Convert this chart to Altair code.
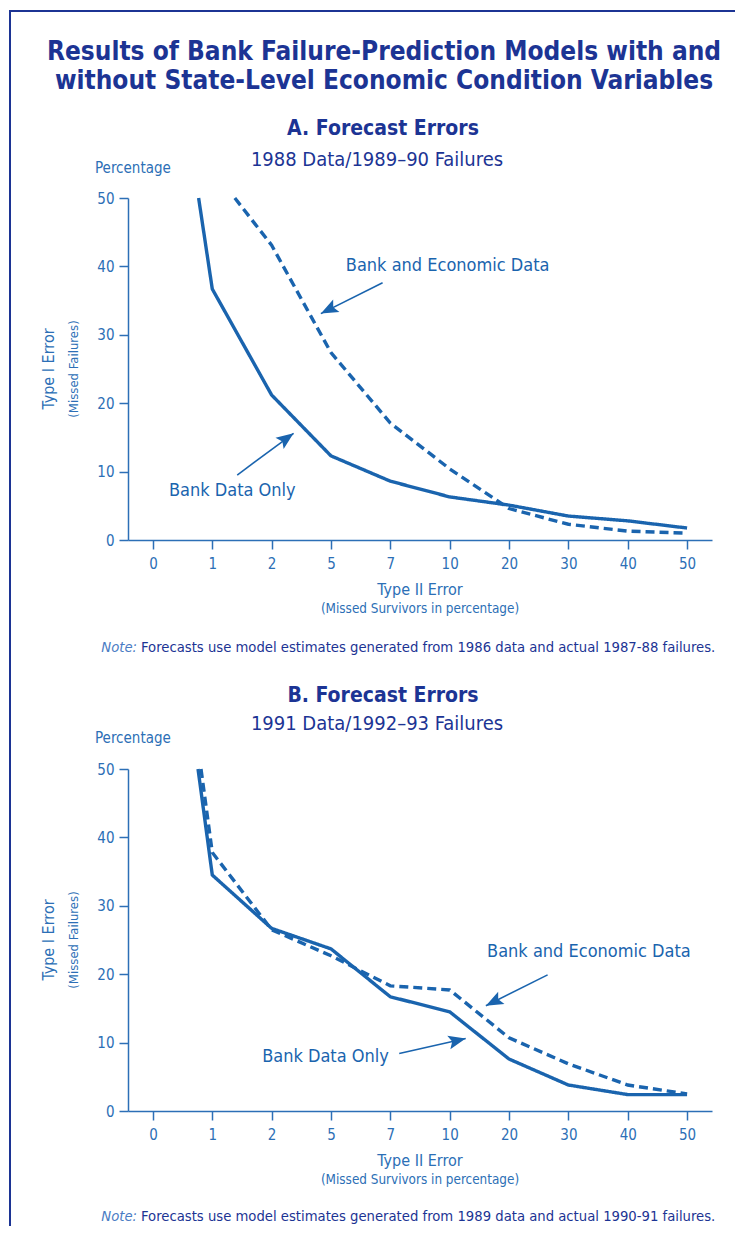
import altair as alt
import pandas as pd

# ---------------- data ----------------
x_labels = ["0", "1", "2", "5", "7", "10", "20", "30", "40", "50"]
y_ticks = [0, 10, 20, 30, 40, 50]

series_names = ["Bank Data Only", "Bank and Economic Data"]

# Panel A (1988 data / 1989-90 failures); x = index into x_labels
a_bank_pos = [0.77, 1, 2, 3, 4, 5, 6, 7, 8, 9]
a_bank_val = [50, 36.7, 21.2, 12.3, 8.6, 6.3, 5.1, 3.5, 2.8, 1.75]
a_econ_pos = [1.38, 2, 3, 4, 5, 6, 7, 8, 9]
a_econ_val = [50, 43.1, 27.4, 17.1, 10.4, 4.6, 2.3, 1.3, 1.0]

# Panel B (1991 data / 1992-93 failures)
b_bank_pos = [0.76, 1, 2, 3, 4, 5, 6, 7, 8, 9]
b_bank_val = [50, 34.5, 26.7, 23.7, 16.7, 14.5, 7.6, 3.8, 2.4, 2.4]
b_econ_pos = [0.81, 1, 2, 3, 4, 5, 6, 7, 8, 9]
b_econ_val = [50, 37.8, 26.5, 22.7, 18.3, 17.7, 10.7, 6.9, 3.8, 2.5]

# annotation labels (data coordinates)
a_label_text = ["Bank and Economic Data", "Bank Data Only"]
a_label_x = [3.25, 0.27]
a_label_y = [40.1, 7.2]
b_label_text = ["Bank and Economic Data", "Bank Data Only"]
b_label_x = [5.63, 1.84]
b_label_y = [23.3, 7.9]

# annotation arrows: tail (x, y) -> tip (x2, y2), arrowhead angle
a_arrow_x = [3.87, 1.42]
a_arrow_y = [37.6, 9.5]
a_arrow_x2 = [2.83, 2.37]
a_arrow_y2 = [33.1, 15.6]
a_arrow_angle = [243, 54]
b_arrow_x = [6.65, 4.15]
b_arrow_y = [19.9, 8.4]
b_arrow_x2 = [5.61, 5.27]
b_arrow_y2 = [15.4, 10.6]
b_arrow_angle = [243, 77]

main_title = ["Results of Bank Failure-Prediction Models with and",
              "without State-Level Economic Condition Variables"]
a_title = "A.  Forecast Errors"
a_subtitle = "1988 Data/1989\u201390 Failures"
b_title = "B.  Forecast Errors"
b_subtitle = "1991 Data/1992\u201393 Failures"
a_note = "Forecasts use model estimates generated from 1986 data and actual 1987-88 failures."
b_note = "Forecasts use model estimates generated from 1989 data and actual 1990-91 failures."
note_label = "Note:"
y_title_top = "Percentage"
y_title_main = "Type I Error"
y_title_sub = "(Missed Failures)"
x_title_main = "Type II Error"
x_title_sub = "(Missed Survivors in percentage)"

# ---------------- style ----------------
FONT = "Liberation Sans Narrow, DejaVu Sans Condensed, sans-serif"
NAVY = "#1c3494"
BLUE = "#1a64ae"
AXIS_BLUE = "#2c6fb6"
NOTE_BLUE = "#4a7cc4"
W, H = 584, 342
ARROW = "M0,0L0.8,2L0,1.6L-0.8,2Z"

label_expr = "[" + ",".join("'%s'" % s for s in x_labels) + "][round(datum.value)]"

x_scale = alt.Scale(domain=[-0.42, 9.42], nice=False, zero=False)
y_scale = alt.Scale(domain=[0, 50], nice=False)

axis_common = dict(title=None, grid=False, tickSize=9, labelFontSize=15,
                   labelFont=FONT, labelColor=AXIS_BLUE, domainColor=AXIS_BLUE,
                   tickColor=AXIS_BLUE, domainWidth=1.5, tickWidth=1.5)
x_axis = alt.Axis(values=list(range(len(x_labels))), labelExpr=label_expr,
                  labelPadding=7, labelFlush=False, **axis_common)
y_axis = alt.Axis(values=y_ticks, labelPadding=5, **axis_common)


def X(field):
    return alt.X(field, type="quantitative", scale=x_scale, axis=x_axis)


def Y(field):
    return alt.Y(field, type="quantitative", scale=y_scale, axis=y_axis)


def text_at(txt, px, py, size, color, weight="normal", align="center",
            baseline="alphabetic", angle=None, style=None):
    kw = dict(text=txt, fontSize=size, font=FONT, color=color,
              fontWeight=weight, align=align, baseline=baseline)
    if angle is not None:
        kw["angle"] = angle
    if style is not None:
        kw["fontStyle"] = style
    return alt.Chart(pd.DataFrame({"k": [0]})).mark_text(**kw).encode(
        x=alt.value(px), y=alt.value(py))


def panel(bank_pos, bank_val, econ_pos, econ_val,
          lab_text, lab_x, lab_y,
          ar_x, ar_y, ar_x2, ar_y2, ar_angle,
          title, subtitle, note, title_y, sub_y, pct_y, note_y, header=False):
    lines_df = pd.DataFrame({
        "pos": list(bank_pos) + list(econ_pos),
        "val": list(bank_val) + list(econ_val),
        "series": [series_names[0]] * len(bank_pos) + [series_names[1]] * len(econ_pos),
    })
    labels_df = pd.DataFrame({"t": lab_text, "x": lab_x, "y": lab_y})
    arrows_df = pd.DataFrame({"x": ar_x, "y": ar_y, "x2": ar_x2, "y2": ar_y2,
                              "angle": ar_angle})

    lines = alt.Chart(lines_df).mark_line(strokeWidth=3.4, color=BLUE).encode(
        x=X("pos"), y=Y("val"),
        strokeDash=alt.StrokeDash(
            "series:N",
            scale=alt.Scale(domain=series_names, range=[[1, 0], [9, 5]]),
            legend=None),
    )
    labels = alt.Chart(labels_df).mark_text(
        font=FONT, fontSize=18, color=BLUE, align="left", baseline="middle"
    ).encode(x=X("x"), y=Y("y"), text="t:N")
    rules = alt.Chart(arrows_df).mark_rule(color=BLUE, strokeWidth=1.6).encode(
        x=X("x"), y=Y("y"), x2="x2", y2="y2")
    heads = alt.Chart(arrows_df).mark_point(
        shape=ARROW, filled=True, size=300, color=BLUE, opacity=1, strokeWidth=0
    ).encode(x=X("x2"), y=Y("y2"), angle=alt.Angle("angle:Q", scale=None))

    layers = []
    if header:
        one = pd.DataFrame({"k": [0]})
        left_edge = alt.Chart(one).mark_rule(color=NAVY, strokeWidth=2).encode(
            x=alt.value(-118), y=alt.value(-187), y2=alt.value(1028))
        top_edge = alt.Chart(one).mark_rule(color=NAVY, strokeWidth=2).encode(
            x=alt.value(-119), x2=alt.value(607), y=alt.value(-187))
        layers += [left_edge, top_edge]
    layers += [lines, labels, rules, heads]
    if header:
        layers.append(text_at(main_title[0], 256, -138, 26, NAVY, weight="bold"))
        layers.append(text_at(main_title[1], 256, -109, 26, NAVY, weight="bold"))
    layers += [
        text_at(title, 255, title_y, 21, NAVY, weight="bold"),
        text_at(subtitle, 249, sub_y, 20, NAVY),
        text_at(y_title_top, -33, pct_y, 15, AXIS_BLUE, align="left"),
        text_at(y_title_main, -79, H / 2, 16, AXIS_BLUE, baseline="middle", angle=270),
        text_at(y_title_sub, -54, H / 2, 13, AXIS_BLUE, baseline="middle", angle=270),
        text_at(x_title_main, W / 2, 397, 16, AXIS_BLUE),
        text_at(x_title_sub, W / 2, 415, 13.4, AXIS_BLUE),
        text_at(note_label, 9, note_y, 14.7, NOTE_BLUE, align="right", style="italic"),
        text_at(note, 13, note_y, 14.7, NAVY, align="left"),
    ]
    return alt.layer(*layers).properties(width=W, height=H)


panel_a = panel(a_bank_pos, a_bank_val, a_econ_pos, a_econ_val,
                a_label_text, a_label_x, a_label_y,
                a_arrow_x, a_arrow_y, a_arrow_x2, a_arrow_y2, a_arrow_angle,
                a_title, a_subtitle, a_note, -63, -32, -25, 454, header=True)
panel_b = panel(b_bank_pos, b_bank_val, b_econ_pos, b_econ_val,
                b_label_text, b_label_x, b_label_y,
                b_arrow_x, b_arrow_y, b_arrow_x2, b_arrow_y2, b_arrow_angle,
                b_title, b_subtitle, b_note, -67, -39, -26, 452)

chart = alt.vconcat(panel_a, panel_b, spacing=229, bounds="flush").properties(
    padding={"left": 0, "top": 2, "right": 0, "bottom": 0},
    background="white",
).configure_view(strokeWidth=0)

chart.save("out.html", embed_options={"renderer": "svg", "actions": False})
